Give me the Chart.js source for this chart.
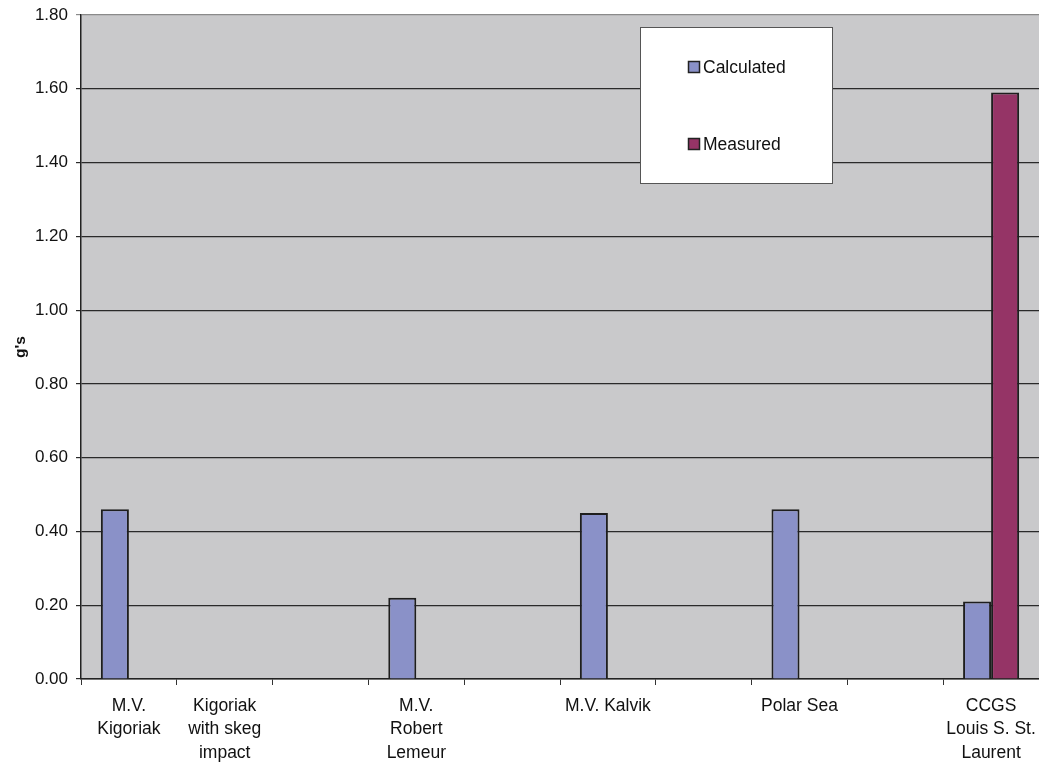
<!DOCTYPE html>
<html>
<head>
<meta charset="utf-8">
<script src="https://cdn.jsdelivr.net/npm/chart.js@4"></script>
<style>
  html, body { margin: 0; padding: 0; background: #fff; }
  #wrap { width: 1039px; height: 764px; position: relative; }
</style>
</head>
<body>
<div id="wrap"><canvas id="chart"></canvas></div>
<script>
// categories (empty strings are unlabeled slots in the original)
const vessels = [
  ['M.V.', 'Kigoriak'],
  ['Kigoriak', 'with skeg', 'impact'],
  '',
  ['M.V.', 'Robert', 'Lemeur'],
  '',
  'M.V. Kalvik',
  '',
  'Polar Sea',
  '',
  ['CCGS', 'Louis S. St.', 'Laurent']
];
const calculated = [0.46, null, null, 0.22, null, 0.45, null, 0.46, null, 0.21];
const measured = [null, null, null, null, null, null, null, null, null, 1.59];
const yTicks = [0, 0.2, 0.4, 0.6, 0.8, 1.0, 1.2, 1.4, 1.6, 1.8];

const FONT = "'Liberation Sans', Arial, sans-serif";

// gray plot background
const plotBg = {
  id: 'plotBg',
  beforeDraw(chart) {
    const { ctx, chartArea: a } = chart;
    ctx.save();
    ctx.fillStyle = '#c9c9cb';
    ctx.fillRect(a.left, a.top, a.right - a.left, a.bottom - a.top);
    ctx.restore();
  }
};

// boxed legend sitting inside the plot
const boxLegend = {
  id: 'boxLegend',
  afterDraw(chart) {
    const ctx = chart.ctx;
    const x = 640, y = 27, w = 192, h = 156;
    ctx.save();
    ctx.fillStyle = '#ffffff';
    ctx.fillRect(x, y, w, h);
    ctx.strokeStyle = '#555';
    ctx.lineWidth = 1;
    ctx.strokeRect(x + 0.5, y + 0.5, w, h);
    const rows = [67, 144];
    chart.data.datasets.forEach((ds, i) => {
      const cy = rows[i];
      ctx.fillStyle = ds.backgroundColor;
      ctx.fillRect(688, cy - 6, 12, 12);
      ctx.strokeStyle = '#222';
      ctx.lineWidth = 1.5;
      ctx.strokeRect(688.5, cy - 5.5, 11, 11);
      ctx.fillStyle = '#111';
      ctx.font = '17.5px ' + FONT;
      ctx.textBaseline = 'middle';
      ctx.fillText(ds.label, 703, cy + 1);
    });
    ctx.restore();
  }
};

new Chart(document.getElementById('chart'), {
  type: 'bar',
  data: {
    labels: vessels,
    datasets: [
      {
        label: 'Calculated',
        data: calculated,
        backgroundColor: '#8a91c8',
        borderColor: '#1e1e1e',
        borderWidth: 2,
        borderSkipped: 'bottom'
      },
      {
        label: 'Measured',
        data: measured,
        backgroundColor: '#953466',
        borderColor: '#1e1e1e',
        borderWidth: 2,
        borderSkipped: 'bottom'
      }
    ]
  },
  options: {
    responsive: true,
    maintainAspectRatio: false,
    animation: false,
    layout: { padding: { top: 15, right: 0, left: 0, bottom: 0 } },
    categoryPercentage: 0.585,
    barPercentage: 1.0,
    plugins: {
      legend: { display: false },
      tooltip: { enabled: false }
    },
    scales: {
      x: {
        offset: true,
        grid: {
          offset: true,
          drawOnChartArea: false,
          drawTicks: true,
          tickLength: 6,
          color: '#333'
        },
        border: { color: '#222', width: 1.5 },
        ticks: {
          color: '#111',
          font: { family: FONT, size: 17.5, lineHeight: 1.32 },
          padding: 10,
          maxRotation: 0,
          autoSkip: false
        },
        afterFit(scale) {
          scale.height = 85;
          scale.paddingLeft = 0;
          scale.paddingRight = 0;
        }
      },
      y: {
        min: 0,
        max: 1.8,
        afterBuildTicks(scale) {
          scale.ticks = yTicks.map(v => ({ value: v }));
        },
        grid: {
          color: ctx => (ctx.tick && ctx.tick.value >= 1.8 ? '#8a8a8a' : '#2a2a2a'),
          lineWidth: 1.2,
          tickLength: 5
        },
        border: { color: '#222', width: 1.5 },
        ticks: {
          color: '#111',
          font: { family: FONT, size: 17 },
          padding: 8,
          callback: v => Number(v).toFixed(2)
        },
        title: {
          display: true,
          text: "g's",
          color: '#111',
          font: { family: FONT, size: 15.5, weight: 'bold' },
          padding: { top: 11, bottom: 0 }
        },
        afterFit(scale) {
          scale.width = 81;
          scale.paddingTop = 0;
          scale.paddingBottom = 0;
        }
      }
    }
  },
  plugins: [plotBg, boxLegend]
});
</script>
</body>
</html>
